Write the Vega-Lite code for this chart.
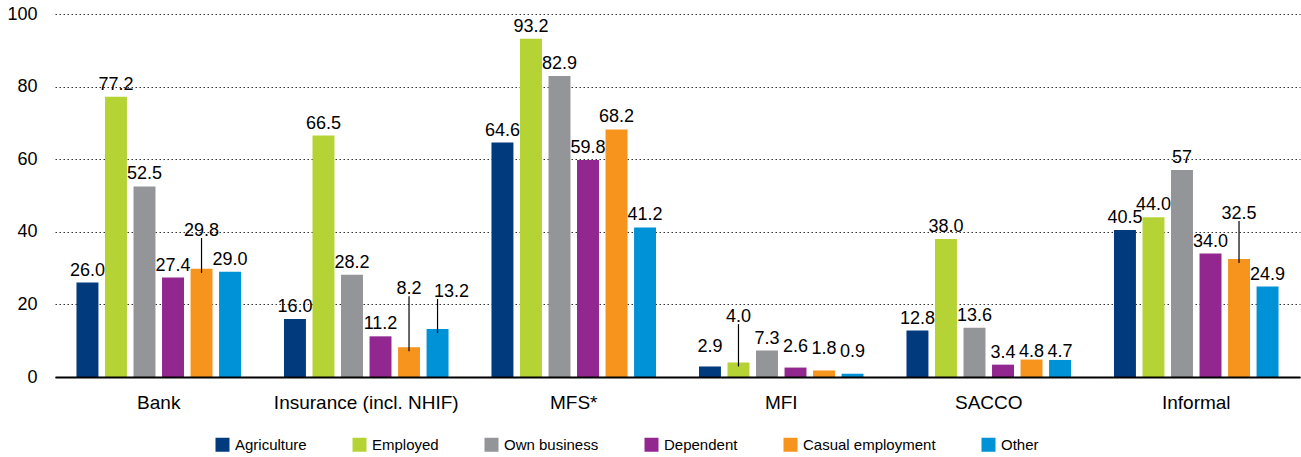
{
  "$schema": "https://vega.github.io/schema/vega-lite/v6.json",
  "width": 1245,
  "height": 363,
  "autosize": {"type": "none"},
  "padding": {"left": 55, "top": 14, "right": 1, "bottom": 80},
  "config": {"view": {"stroke": null}, "font": "Liberation Sans"},
  "data": {
    "values": [
      {"cat": "Bank", "series": "Agriculture", "value": 26.0, "label": "26.0"},
      {"cat": "Bank", "series": "Employed", "value": 77.2, "label": "77.2"},
      {"cat": "Bank", "series": "Own business", "value": 52.5, "label": "52.5"},
      {"cat": "Bank", "series": "Dependent", "value": 27.4, "label": "27.4"},
      {"cat": "Bank", "series": "Casual employment", "value": 29.8, "label": "29.8", "labelAt": 36.9, "lead": 1},
      {"cat": "Bank", "series": "Other", "value": 29.0, "label": "29.0"},
      {"cat": "Insurance (incl. NHIF)", "series": "Agriculture", "value": 16.0, "label": "16.0"},
      {"cat": "Insurance (incl. NHIF)", "series": "Employed", "value": 66.5, "label": "66.5"},
      {"cat": "Insurance (incl. NHIF)", "series": "Own business", "value": 28.2, "label": "28.2"},
      {"cat": "Insurance (incl. NHIF)", "series": "Dependent", "value": 11.2, "label": "11.2"},
      {"cat": "Insurance (incl. NHIF)", "series": "Casual employment", "value": 8.2, "label": "8.2", "labelAt": 20.9, "lead": 1},
      {"cat": "Insurance (incl. NHIF)", "series": "Other", "value": 13.2, "label": "13.2", "labelAt": 20.1, "lead": 1},
      {"cat": "MFS*", "series": "Agriculture", "value": 64.6, "label": "64.6"},
      {"cat": "MFS*", "series": "Employed", "value": 93.2, "label": "93.2"},
      {"cat": "MFS*", "series": "Own business", "value": 82.9, "label": "82.9"},
      {"cat": "MFS*", "series": "Dependent", "value": 59.8, "label": "59.8"},
      {"cat": "MFS*", "series": "Casual employment", "value": 68.2, "label": "68.2"},
      {"cat": "MFS*", "series": "Other", "value": 41.2, "label": "41.2"},
      {"cat": "MFI", "series": "Agriculture", "value": 2.9, "label": "2.9", "labelAt": 5.0},
      {"cat": "MFI", "series": "Employed", "value": 4.0, "label": "4.0", "labelAt": 13.2, "lead": 1},
      {"cat": "MFI", "series": "Own business", "value": 7.3, "label": "7.3"},
      {"cat": "MFI", "series": "Dependent", "value": 2.6, "label": "2.6", "labelAt": 5.0},
      {"cat": "MFI", "series": "Casual employment", "value": 1.8, "label": "1.8", "labelAt": 4.4},
      {"cat": "MFI", "series": "Other", "value": 0.9, "label": "0.9", "labelAt": 3.6},
      {"cat": "SACCO", "series": "Agriculture", "value": 12.8, "label": "12.8"},
      {"cat": "SACCO", "series": "Employed", "value": 38.0, "label": "38.0"},
      {"cat": "SACCO", "series": "Own business", "value": 13.6, "label": "13.6"},
      {"cat": "SACCO", "series": "Dependent", "value": 3.4, "label": "3.4"},
      {"cat": "SACCO", "series": "Casual employment", "value": 4.8, "label": "4.8", "labelAt": 3.6},
      {"cat": "SACCO", "series": "Other", "value": 4.7, "label": "4.7", "labelAt": 3.6},
      {"cat": "Informal", "series": "Agriculture", "value": 40.5, "label": "40.5"},
      {"cat": "Informal", "series": "Employed", "value": 44.0, "label": "44.0"},
      {"cat": "Informal", "series": "Own business", "value": 57, "label": "57"},
      {"cat": "Informal", "series": "Dependent", "value": 34.0, "label": "34.0"},
      {"cat": "Informal", "series": "Casual employment", "value": 32.5, "label": "32.5", "labelAt": 41.6, "lead": 1},
      {"cat": "Informal", "series": "Other", "value": 24.9, "label": "24.9"}
    ]
  },
  "encoding": {
    "x": {
      "field": "cat",
      "type": "nominal",
      "sort": ["Bank", "Insurance (incl. NHIF)", "MFS*", "MFI", "SACCO", "Informal"],
      "scale": {"paddingInner": 0.207, "paddingOuter": 0.1035},
      "axis": {
        "title": null,
        "labelAngle": 0,
        "labelFontSize": 19,
        "labelPadding": 16,
        "labelBaseline": "top",
        "labelColor": "black",
        "labelLimit": 400,
        "ticks": false,
        "domainColor": "black",
        "domainWidth": 2,
        "zindex": 1
      }
    },
    "xOffset": {
      "field": "series",
      "type": "nominal",
      "sort": ["Agriculture", "Employed", "Own business", "Dependent", "Casual employment", "Other"],
      "scale": {"paddingInner": 0.23, "paddingOuter": 0}
    }
  },
  "layer": [
    {
      "mark": {"type": "bar"},
      "encoding": {
        "y": {
          "field": "value",
          "type": "quantitative",
          "title": null,
          "scale": {"domain": [0, 100], "nice": false},
          "axis": {
            "title": null,
            "values": [0, 10, 20, 30, 40, 50, 60, 70, 80, 90, 100],
            "labelExpr": "datum.value % 20 == 0 ? datum.label : ''",
            "grid": true,
            "gridDash": [1.5, 2.5],
            "gridColor": "#333333",
            "domain": false,
            "ticks": false,
            "labelPadding": 18,
            "labelFontSize": 18,
            "labelColor": "black"
          }
        },
        "color": {
          "field": "series",
          "type": "nominal",
          "sort": ["Agriculture", "Employed", "Own business", "Dependent", "Casual employment", "Other"],
          "scale": {
            "domain": ["Agriculture", "Employed", "Own business", "Dependent", "Casual employment", "Other"],
            "range": ["#023a7e", "#b5d334", "#939598", "#92278f", "#f7941d", "#0092d7"]
          },
          "legend": {
            "title": null,
            "orient": "none",
            "direction": "horizontal",
            "legendX": 160,
            "legendY": 423,
            "symbolType": "square",
            "symbolSize": 196,
            "symbolStrokeWidth": 0,
            "labelFontSize": 15,
            "labelColor": "black",
            "labelOffset": 5,
            "columnPadding": 45,
            "padding": 0
          }
        }
      }
    },
    {
      "transform": [{"filter": "!isValid(datum.labelAt)"}],
      "mark": {"type": "text", "dy": -7, "baseline": "alphabetic", "fontSize": 18, "color": "black"},
      "encoding": {
        "y": {"field": "value", "type": "quantitative", "title": null},
        "text": {"field": "label", "type": "nominal"}
      }
    },
    {
      "transform": [{"filter": "isValid(datum.labelAt) && datum.label != '13.2'"}],
      "mark": {"type": "text", "dy": -7, "baseline": "alphabetic", "fontSize": 18, "color": "black"},
      "encoding": {
        "y": {"field": "labelAt", "type": "quantitative", "title": null},
        "text": {"field": "label", "type": "nominal"}
      }
    },
    {
      "transform": [{"filter": "datum.label == '13.2'"}],
      "mark": {"type": "text", "dy": -7, "dx": 14, "baseline": "alphabetic", "fontSize": 18, "color": "black"},
      "encoding": {
        "y": {"field": "labelAt", "type": "quantitative", "title": null},
        "text": {"field": "label", "type": "nominal"}
      }
    },
    {
      "transform": [{"filter": "datum.lead == 1"}],
      "mark": {"type": "rule", "color": "black", "strokeWidth": 1.2, "yOffset": -5, "y2Offset": 4},
      "encoding": {
        "y": {"field": "labelAt", "type": "quantitative", "title": null},
        "y2": {"field": "value"}
      }
    }
  ]
}
